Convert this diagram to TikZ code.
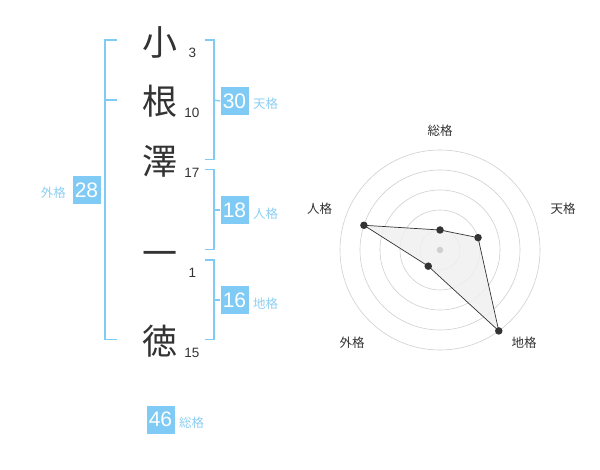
\documentclass[tikz,border=0pt]{standalone}
\usepackage{fontspec}
\setmainfont{Noto Sans CJK JP}
\newfontfamily\numfont{Liberation Sans}
\definecolor{lblue}{HTML}{80CBF6}
\definecolor{ltext}{HTML}{8ED0F3}
\definecolor{ink}{HTML}{333333}
\definecolor{ring}{HTML}{D0D0D0}
\definecolor{polyfill}{HTML}{F0F0F0}
\tikzset{
  kanji/.style={inner sep=0pt, text=ink, font=\fontsize{35}{35}\selectfont},
  strokenum/.style={inner sep=0pt, text=ink, font=\numfont\fontsize{13.5}{13.5}\selectfont},
  bracketline/.style={draw=lblue, line width=1.3pt},
  scorebox/.style={fill=lblue, text=white, inner sep=0pt, minimum width=28pt, minimum height=28pt, font=\numfont\fontsize{21}{21}\selectfont},
  scorelabel/.style={inner sep=0pt, text=ltext, font=\fontsize{12.5}{12.5}\selectfont},
  ringline/.style={draw=ring, line width=0.6pt},
  radarlabel/.style={inner sep=0pt, text=ink, font=\fontsize{12.5}{12.5}\selectfont},
  dotmark/.style={circle, fill=ink, inner sep=0pt, minimum size=7.5pt},
  centermark/.style={circle, fill=ring, inner sep=0pt, minimum size=6.5pt},
  polyline/.style={draw=ink, line width=0.7pt, fill=polyfill, fill opacity=0.85},
}
\begin{document}
\begin{tikzpicture}[x=1pt,y=-1pt]
\useasboundingbox[fill=white] (0,0) rectangle (600,470);

% characters
\node[kanji] (k1) at (160,42) {小};
\node[kanji] (k2) at (160,101) {根};
\node[kanji] (k3) at (160,161) {澤};
\node[kanji] (k4) at (160,259) {一};
\node[kanji] (k5) at (160,341) {徳};

\node[strokenum] (s1) at (192.5,53) {3};
\node[strokenum] (s2) at (192,113) {10};
\node[strokenum] (s3) at (192,173) {17};
\node[strokenum] (s4) at (192.5,273) {1};
\node[strokenum] (s5) at (192,353) {15};

% left bracket (外格)
\coordinate (la) at (117,40);
\coordinate (lb) at (105,40);
\coordinate (lc) at (105,339.5);
\coordinate (ld) at (117,339.5);
\coordinate (lm1) at (105,100);
\coordinate (lm2) at (117,100);
\draw[bracketline] (la) -- (lb) -- (lc) -- (ld);
\draw[bracketline] (lm1) -- (lm2);
\node[scorebox] (b28) at (86.5,190) {28};
\node[scorelabel, anchor=east] (t28) at (66,193) {外格};

% right bracket 天格
\coordinate (ta) at (205,40);
\coordinate (tb) at (214,40);
\coordinate (tc) at (214,159.5);
\coordinate (td) at (205,159.5);
\coordinate (tm) at (214,100);
\draw[bracketline] (ta) -- (tb) -- (tc) -- (td);
\node[scorebox] (b30) at (234.5,101) {30};
\draw[bracketline] (tm) -- (b30.west);
\node[scorelabel, anchor=west] (t30) at (253,103.5) {天格};

% right bracket 人格
\coordinate (ja) at (205,169.5);
\coordinate (jb) at (214,169.5);
\coordinate (jc) at (214,249.5);
\coordinate (jd) at (205,249.5);
\coordinate (jm) at (214,210);
\draw[bracketline] (ja) -- (jb) -- (jc) -- (jd);
\node[scorebox] (b18) at (234.5,210) {18};
\draw[bracketline] (jm) -- (b18.west);
\node[scorelabel, anchor=west] (t18) at (253,213.5) {人格};

% right bracket 地格
\coordinate (ca) at (205,260);
\coordinate (cb) at (214,260);
\coordinate (cc) at (214,339.5);
\coordinate (cd) at (205,339.5);
\coordinate (cm) at (214,300);
\draw[bracketline] (ca) -- (cb) -- (cc) -- (cd);
\node[scorebox] (b16) at (234.5,300) {16};
\draw[bracketline] (cm) -- (b16.west);
\node[scorelabel, anchor=west] (t16) at (253,303.5) {地格};

% total
\node[scorebox] (b46) at (160.5,419.5) {46};
\node[scorelabel, anchor=west] (t46) at (179,422.5) {総格};

% radar chart
\coordinate (rc) at (440,250);
\foreach \r in {20,40,60,80,100} {
  \draw[ringline] (rc) circle[radius=\r];
}
\path (rc) ++(-90:20) coordinate (pSo);
\path (rc) ++(-18:40) coordinate (pTen);
\path (rc) ++(54:100) coordinate (pChi);
\path (rc) ++(126:20) coordinate (pGai);
\path (rc) ++(198:80) coordinate (pJin);
\draw[polyline] (pSo) -- (pTen) -- (pChi) -- (pGai) -- (pJin) -- cycle;
\node[centermark] (ctr) at (rc) {};
\node[dotmark] (dSo) at (pSo) {};
\node[dotmark] (dTen) at (pTen) {};
\node[dotmark] (dChi) at (pChi) {};
\node[dotmark] (dGai) at (pGai) {};
\node[dotmark] (dJin) at (pJin) {};

\node[radarlabel] (lSo) at (440,131) {総格};
\node[radarlabel] (lTen) at (563,208.5) {天格};
\node[radarlabel] (lChi) at (524,342.5) {地格};
\node[radarlabel] (lGai) at (352,342.5) {外格};
\node[radarlabel] (lJin) at (319.5,208.5) {人格};
\end{tikzpicture}
\end{document}
